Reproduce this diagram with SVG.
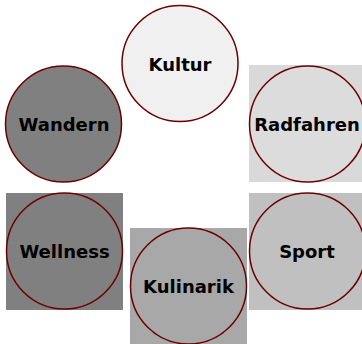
<svg xmlns="http://www.w3.org/2000/svg" width="362" height="344" viewBox="0 0 362 344">
<style>
.c{stroke:#6b0000;stroke-width:1.5}
.t{font-family:"DejaVu Sans",Verdana,sans-serif;font-weight:bold;font-size:18px;fill:#000;text-anchor:middle}
</style>
<rect width="362" height="344" fill="#fff"/>
<g id="kultur"><circle class="c" cx="180" cy="63.5" r="58" fill="#f0f0f0"/><text class="t" x="180" y="71">Kultur</text></g>
<g id="wandern"><circle class="c" cx="63.5" cy="124" r="58" fill="#808080"/><text class="t" x="64" y="131">Wandern</text></g>
<g id="radfahren"><rect x="249" y="65" width="117" height="117" fill="#d9d9d9"/><circle class="c" cx="307.5" cy="124" r="58" fill="#dcdcdc"/><text class="t" x="307" y="130.5">Radfahren</text></g>
<g id="wellness"><rect x="6" y="193" width="117" height="117" fill="#808080"/><circle class="c" cx="64.5" cy="251" r="58" fill="#808080"/><text class="t" x="64.5" y="258">Wellness</text></g>
<g id="kulinarik"><rect x="130" y="228" width="117" height="117" fill="#a8a8a8"/><circle class="c" cx="188.5" cy="286" r="58" fill="#a8a8a8"/><text class="t" x="188.5" y="293">Kulinarik</text></g>
<g id="sport"><rect x="249" y="193" width="117" height="117" fill="#c0c0c0"/><circle class="c" cx="307.5" cy="251" r="58" fill="#c0c0c0"/><text class="t" x="307" y="258">Sport</text></g>
<g id="connectors"></g>
</svg>
